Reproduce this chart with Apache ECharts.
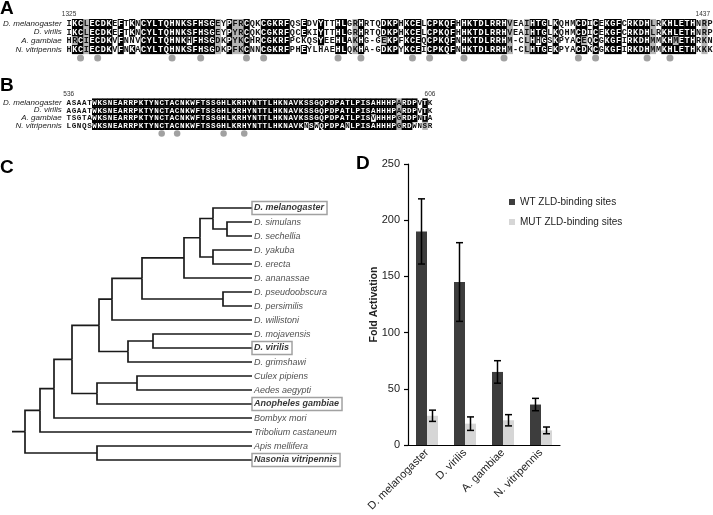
<!DOCTYPE html>
<html>
<head>
<meta charset="utf-8">
<script src="https://cdn.jsdelivr.net/npm/echarts@6/dist/echarts.min.js"></script>
<style>
html, body { margin: 0; padding: 0; background: #fff; }
#box { width: 713px; height: 515px; }
</style>
</head>
<body>
<div id="box"></div>
<script>
// species shown in the alignments and in the bar chart
let alnSpecies = ['D. melanogaster', 'D. virilis', 'A. gambiae', 'N. vitripennis'];

// panel A, residues 1325-1437
let seqA = [
    'IKCLECDKEFTKNCYLTQHNKSFHSGEYPFRCQKCGKRFQSEDVYTTHLGRHRTQDKPHKCELCPKQFHHKTDLRRHVEAIHTGLKQHMCDICEKGFCRKDHLRKHLETHNRP',
    'IKCLECDKEFTKNCYLTQHNKSFHSGEYPYRCQKCGKRFQCEKIYTTHLGRHRTQDKPHKCELCPKQFHHKTDLRRHVEAIHTGLKQHMCDICEKGFCRKDHLRKHLETHNRP',
    'HRCIECDKVFNNVCYLTQHNKHFHSGDKPYKCHRCGKRFPCKQSYEEHLAKHG-GEKPFKCEQCPKQFNHKTDLRRHM-CLHHGSKPYACEQCGKGFIRKDHMMKHMETHRKN',
    'HKCIECDKVFNKACYLTQHNKSFHSGDKPFKCNNCGKRFPHEYLHAEHLQKHA-GDKPYKCEICPKQFNHKTDLRRHM-CLHTGEKPYACDKCGKGFIRKDHMMKHLETHKKK'
];
let rangeA = [1325, 1437];
// zinc finger Cys/His (column number, 1 based)
let dotsA = [3, 6, 19, 24, 32, 35, 48, 52, 61, 64, 70, 77, 90, 93, 102, 106];

// panel B, residues 536-606
let seqB = [
    'ASAATWKSNEARRPKTYNCTACNKWFTSSGHLKRHYNTTLHKNAVKSSGQPDPATLPISAHHHPARDPVTK',
    'AGAATWKSNEARRPKTYNCTACNKWFTSSGHLKRHYNTTLHKNAVKSSGQPDPATLPISAHHHPARDPVTK',
    'TSGTAWKSNEARRPKTYNCTACNKWFTSSGHLKRHYNTTLHKNAVKSSGQPDPATLPISVHHHPGRDPNTA',
    'LGNQSWKSNEARRPKTYNCTACNKWFTSSGHLKRHYNTTLHKNAVKNSWQPDPANLPISAHHHPGRDWNSR'
];
let rangeB = [536, 606];
let dotsB = [19, 22, 31, 35];

// panel C, tree leaves top to bottom
let treeLeaves = ['D. melanogaster', 'D. simulans', 'D. sechellia', 'D. yakuba', 'D. erecta',
    'D. ananassae', 'D. pseudoobscura', 'D. persimilis', 'D. willistoni', 'D. mojavensis',
    'D. virilis', 'D. grimshawi', 'Culex pipiens', 'Aedes aegypti', 'Anopheles gambiae',
    'Bombyx mori', 'Tribolium castaneum', 'Apis mellifera', 'Nasonia vitripennis'];
let boxedLeaves = ['D. melanogaster', 'D. virilis', 'Anopheles gambiae', 'Nasonia vitripennis'];
// [node depth, children...], a number is a leaf index
let treeShape = [13,
    [28,
        [42,
            [60,
                [87,
                    [100,
                        [130,
                            [172, [188, [201, 0, [215, 1, 2]], [201, 3, 4]], 5],
                            [211, 6, 7]],
                        8],
                    [116, [141, 9, 10], 11]],
                [85, [125, 12, 13], 14]],
            15],
        16],
    [85, 17, 18]];
let leafDepth = 240;

// panel D
let barCats = ['D. melanogaster', 'D. virilis', 'A. gambiae', 'N. vitripennis'];
let wtMean = [190, 145, 65, 36];
let wtErr = [29, 35, 10, 5.5];
let mutMean = [26, 19, 22, 13];
let mutErr = [5, 6, 5, 3];

let simGroups = ['ILVM', 'FYW', 'KRH', 'DE', 'NQ', 'ST', 'AG'];

function sameGroup(a, b) {
    return a === b || simGroups.some(g => g.includes(a) && g.includes(b));
}

// 2 = identical (black), 1 = similar (grey), 0 = none
function shadeColumns(seqs) {
    let out = [];
    for (let c = 0; c < seqs[0].length; c++) {
        let col = seqs.map(s => s[c]);
        let counts = {};
        col.forEach(ch => { if (ch !== '-') counts[ch] = (counts[ch] || 0) + 1; });
        let top = null, n = 0;
        for (let k in counts) if (counts[k] > n) { top = k; n = counts[k]; }
        let allSim = col.every(ch => ch !== '-' && sameGroup(ch, col[0]));
        col.forEach((ch, r) => {
            let shade = 0;
            if (n >= 3) shade = ch === top ? 2 : (ch !== '-' && sameGroup(ch, top) ? 1 : 0);
            else if (allSim) shade = 1;
            out.push([c, r, shade]);
        });
    }
    return out;
}

function alnItem(seqs, font) {
    return function (params, api) {
        let col = api.value(0), row = api.value(1), shade = api.value(2);
        let p = api.coord([col, row]);
        let s = api.size([1, 1]);
        return {
            type: 'group',
            children: [{
                type: 'rect',
                shape: { x: p[0] - s[0] / 2, y: p[1] - s[1] / 2, width: s[0] + 0.4, height: s[1] + 0.4 },
                style: { fill: shade === 2 ? '#000' : shade === 1 ? '#b5b5b5' : 'rgba(0,0,0,0)' }
            }, {
                type: 'text',
                x: p[0], y: p[1] + 0.5,
                style: { text: seqs[row][col], font: font, fill: shade === 2 ? '#fff' : '#111',
                    align: 'center', verticalAlign: 'middle' }
            }]
        };
    };
}

function positions(range) {
    let arr = [];
    for (let i = range[0]; i <= range[1]; i++) arr.push(String(i));
    return arr;
}

// tree layout: elbow from each node to each child
let treeSegs = [];
function layoutTree(node) {
    if (typeof node === 'number') return { x: leafDepth, y: node };
    let kids = node.slice(1).map(layoutTree);
    let y = (kids[0].y + kids[kids.length - 1].y) / 2;
    kids.forEach(k => treeSegs.push({ coords: [[node[0], y], [node[0], k.y], [k.x, k.y]] }));
    return { x: node[0], y: y };
}
let treeRoot = layoutTree(treeShape);
treeSegs.push({ coords: [[0, treeRoot.y], [treeRoot.x, treeRoot.y]] });

function errItem(side) {
    return function (params, api) {
        let lo = api.coord([api.value(0), api.value(1)]);
        let hi = api.coord([api.value(0), api.value(2)]);
        let x = lo[0] + side * 5.5;
        let st = { stroke: '#000', lineWidth: 1.5 };
        return {
            type: 'group',
            children: [
                { type: 'line', shape: { x1: x, y1: lo[1], x2: x, y2: hi[1] }, style: st },
                { type: 'line', shape: { x1: x - 3.5, y1: lo[1], x2: x + 3.5, y2: lo[1] }, style: st },
                { type: 'line', shape: { x1: x - 3.5, y1: hi[1], x2: x + 3.5, y2: hi[1] }, style: st }
            ]
        };
    };
}

function alnXAxis(grid, range, last) {
    return {
        gridIndex: grid, type: 'category', data: positions(range), position: 'top',
        axisLine: { show: false }, axisTick: { show: false },
        axisLabel: {
            interval: 0, fontSize: 6.5, color: '#333', margin: 1, alignMaxLabel: last,
            formatter: (v, i) => (i === 0 || i === range[1] - range[0]) ? v : ''
        }
    };
}

function alnYAxis(grid) {
    return {
        gridIndex: grid, type: 'category', inverse: true, data: alnSpecies.concat(['']),
        axisLine: { show: false }, axisTick: { show: false },
        axisLabel: { interval: 0, fontStyle: 'italic', fontSize: 8, color: '#222', margin: 4.5 }
    };
}

let chart = echarts.init(document.getElementById('box'));

let letterFont = 'bold 19px "Liberation Sans", Arial, sans-serif';

let option = {
    backgroundColor: '#fff',
    animation: false,
    textStyle: { fontFamily: '"Liberation Sans", Arial, sans-serif' },
    graphic: [
        { type: 'text', x: 0, y: -1, style: { text: 'A', font: letterFont, fill: '#000' } },
        { type: 'text', x: 0, y: 76, style: { text: 'B', font: letterFont, fill: '#000' } },
        { type: 'text', x: 0, y: 158, style: { text: 'C', font: letterFont, fill: '#000' } },
        { type: 'text', x: 356, y: 154, style: { text: 'D', font: letterFont, fill: '#000' } }
    ],
    grid: [
        { left: 59.5, top: 19, width: 653.5, height: 43.4 },
        { left: 59.1, top: 98.4, width: 373.5, height: 39 },
        { left: 12, top: 201, width: 240, height: 266 },
        { left: 408, top: 164, width: 152, height: 281 }
    ],
    legend: {
        data: ['WT ZLD-binding sites', 'MUT ZLD-binding sites'],
        orient: 'vertical', left: 504, top: 191,
        icon: 'rect', itemWidth: 6, itemHeight: 6, itemGap: 8,
        textStyle: { fontSize: 10, color: '#222', lineHeight: 12 }
    },
    xAxis: [
        alnXAxis(0, rangeA, 'right'),
        alnXAxis(1, rangeB, null),
        { gridIndex: 2, type: 'value', min: 0, max: 240, show: false },
        {
            gridIndex: 3, type: 'category', data: barCats,
            axisLine: { lineStyle: { color: '#000', width: 1.2 } },
            axisTick: { length: 4, lineStyle: { color: '#000', width: 1.2 } },
            axisLabel: { rotate: 45, interval: 0, fontSize: 11, color: '#222', margin: 6 }
        }
    ],
    yAxis: [
        alnYAxis(0),
        alnYAxis(1),
        { gridIndex: 2, type: 'value', inverse: true, min: -0.5, max: 18.5, show: false },
        {
            gridIndex: 3, type: 'value', min: 0, max: 250, interval: 50,
            axisLine: { show: true, lineStyle: { color: '#000', width: 1.2 } },
            axisTick: { show: true, length: 4, lineStyle: { color: '#000', width: 1.2 } },
            splitLine: { show: false },
            axisLabel: { fontSize: 11, color: '#222', margin: 8 },
            name: 'Fold Activation', nameLocation: 'middle', nameGap: 28, nameMoveOverlap: false,
            nameTextStyle: { fontSize: 10.5, fontWeight: 'bold', color: '#222' }
        }
    ],
    series: [
        {
            type: 'custom', xAxisIndex: 0, yAxisIndex: 0, silent: true,
            data: shadeColumns(seqA), renderItem: alnItem(seqA, 'bold 8.5px "Liberation Mono", monospace')
        },
        {
            type: 'scatter', xAxisIndex: 0, yAxisIndex: 0, silent: true,
            symbolSize: 7, itemStyle: { color: '#8a8a8a' },
            data: dotsA.map(p => [p - 1, 4])
        },
        {
            type: 'custom', xAxisIndex: 1, yAxisIndex: 1, silent: true,
            data: shadeColumns(seqB), renderItem: alnItem(seqB, 'bold 7.6px "Liberation Mono", monospace')
        },
        {
            type: 'scatter', xAxisIndex: 1, yAxisIndex: 1, silent: true,
            symbolSize: 6.5, itemStyle: { color: '#8a8a8a' },
            data: dotsB.map(p => [p - 1, 4])
        },
        {
            type: 'lines', coordinateSystem: 'cartesian2d', xAxisIndex: 2, yAxisIndex: 2,
            polyline: true, silent: true,
            lineStyle: { color: '#1a1a1a', width: 1.7, opacity: 1 },
            data: treeSegs
        },
        {
            type: 'scatter', xAxisIndex: 2, yAxisIndex: 2, silent: true, symbolSize: 0,
            label: {
                show: true, position: 'right', distance: 0, formatter: '{b}',
                fontSize: 9, fontStyle: 'italic', color: '#222', lineHeight: 11, padding: [1, 3, 1, 2]
            },
            data: treeLeaves.map((n, i) => {
                let item = { name: n, value: [leafDepth, i] };
                if (boxedLeaves.includes(n)) {
                    item.label = { fontWeight: 'bold', color: '#000', borderColor: '#8a8a8a', borderWidth: 1.5 };
                }
                return item;
            })
        },
        {
            name: 'WT ZLD-binding sites', type: 'bar', xAxisIndex: 3, yAxisIndex: 3,
            barWidth: 11, barGap: '0%', itemStyle: { color: '#3d3d3d' }, data: wtMean
        },
        {
            name: 'MUT ZLD-binding sites', type: 'bar', xAxisIndex: 3, yAxisIndex: 3,
            barWidth: 11, barGap: '0%', itemStyle: { color: '#d6d6d6' }, data: mutMean
        },
        {
            type: 'custom', xAxisIndex: 3, yAxisIndex: 3, silent: true, z: 5,
            renderItem: errItem(-1),
            data: wtMean.map((m, i) => [i, m - wtErr[i], m + wtErr[i]])
        },
        {
            type: 'custom', xAxisIndex: 3, yAxisIndex: 3, silent: true, z: 5,
            renderItem: errItem(1),
            data: mutMean.map((m, i) => [i, m - mutErr[i], m + mutErr[i]])
        }
    ]
};

chart.setOption(option);
</script>
</body>
</html>
